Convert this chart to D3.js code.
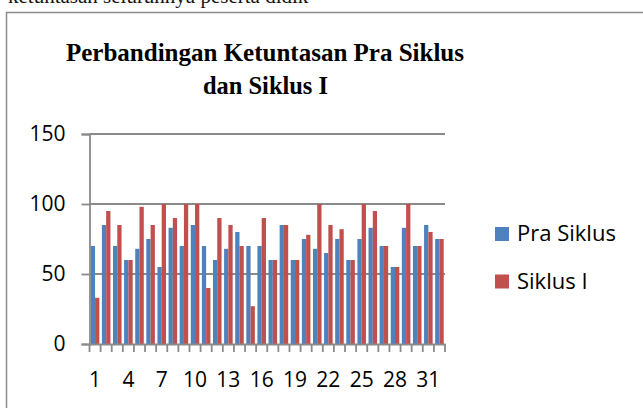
<!DOCTYPE html>
<html><head><meta charset="utf-8">
<script src="https://cdn.jsdelivr.net/npm/d3@7"></script>
<style>html,body{margin:0;padding:0;background:#fff;overflow:hidden}</style>
</head><body>
<svg id="c" width="643" height="408"></svg>
<script>
const categories = d3.range(1, 33).map(String);
const praSiklus = [70,85,70,60,68,75,55,83,70,85,70,60,68,80,70,70,60,85,60,75,68,65,75,60,75,83,70,55,83,70,85,75];
const siklusI   = [33,95,85,60,98,85,100,90,100,100,40,90,85,70,27,90,60,85,60,78,100,85,82,60,100,95,70,55,100,70,80,75];
const yTicks = [0,50,100,150];
const xTickLabels = ["1","4","7","10","13","16","19","22","25","28","31"];
const seriesNames = ["Pra Siklus","Siklus I"];
const colors = ["#4F81BD","#C0504D"];
const titleLines = ["Perbandingan Ketuntasan Pra Siklus","dan Siklus I"];

const svg = d3.select("#c");
const font = "'Open Sans', sans-serif";

// clipped document text above the chart (only its lower part shows, as in the source page)
svg.append("text").attr("x", 8).attr("y", 3)
  .attr("font-family","'Liberation Serif', serif").attr("font-size", 21).attr("fill","#111")
  .text("ketuntasan seluruhnya peserta didik");

// chart border
svg.append("rect").attr("x",0).attr("y",11).attr("width",643).attr("height",397).attr("fill","#fff");
svg.append("path").attr("d","M6.5,420 V12.5 H660").attr("fill","none").attr("stroke","#8c8c8c").attr("stroke-width",1.5);

// title
const tt = svg.append("text").attr("text-anchor","middle")
  .attr("font-family","'Liberation Serif', serif").attr("font-weight","bold").attr("font-size",26).attr("fill","#000");
tt.append("tspan").attr("x",265).attr("y",61).text(titleLines[0]).attr("textLength",398).attr("lengthAdjust","spacingAndGlyphs");
tt.append("tspan").attr("x",265.5).attr("y",94).text(titleLines[1]).attr("textLength",125).attr("lengthAdjust","spacingAndGlyphs");

const x0 = 89.5, x1 = 445, yTop = 134, yBot = 344;
const x = d3.scaleBand().domain(categories).range([x0, x1]).paddingInner(0).paddingOuter(0);
const y = d3.scaleLinear().domain([0,150]).range([yBot, yTop]);
const inner = d3.scaleBand().domain(seriesNames).range([0, x.bandwidth()]).paddingOuter(0.3).paddingInner(0);

// gridlines
svg.append("g").selectAll("line").data(yTicks.filter(d=>d>0)).join("line")
  .attr("x1",x0).attr("x2",x1).attr("y1",d=>y(d)).attr("y2",d=>y(d))
  .attr("stroke","#8a8a8a").attr("stroke-width",1.8);

// bars
const series = [praSiklus, siklusI];
series.forEach((vals, si) => {
  svg.append("g").selectAll("rect").data(vals).join("rect")
    .attr("x",(d,i)=>x(categories[i]) + inner(seriesNames[si]))
    .attr("width", inner.bandwidth())
    .attr("y", d=>y(d)).attr("height", d=>yBot - y(d))
    .attr("fill", colors[si]);
});

// y axis
const ya = svg.append("g").attr("transform",`translate(${x0},0)`)
  .call(d3.axisLeft(y).tickValues(yTicks).tickSize(8).tickPadding(16));
ya.select(".domain").attr("stroke","#8a8a8a").attr("stroke-width",1.8);
ya.selectAll(".tick line").attr("stroke","#8a8a8a").attr("stroke-width",1.8);
ya.selectAll("text").attr("font-family",font).attr("font-size",21).attr("fill","#000");

// x axis
const xa = svg.append("g").attr("transform",`translate(0,${yBot})`)
  .call(d3.axisBottom(x).tickValues(xTickLabels).tickSize(0).tickPadding(20));
xa.select(".domain").attr("stroke","#8a8a8a").attr("stroke-width",1.8);
xa.selectAll("text").attr("font-family",font).attr("font-size",21).attr("fill","#000").attr("dy","1.1em");
svg.append("g").selectAll("line").data(d3.range(categories.length+1)).join("line")
  .attr("x1",i=>x0 + i*x.step()).attr("x2",i=>x0 + i*x.step())
  .attr("y1",yBot).attr("y2",yBot+8).attr("stroke","#8a8a8a").attr("stroke-width",1.8);

// legend
const lg = svg.append("g");
seriesNames.forEach((n,i)=>{
  lg.append("rect").attr("x",495).attr("y",227 + i*47.5).attr("width",14).attr("height",14).attr("fill",colors[i]);
  lg.append("text").attr("x",517).attr("y",241 + i*47.5).attr("font-family",font).attr("font-size",22).attr("fill","#000").text(n);
});
</script>
</body></html>
